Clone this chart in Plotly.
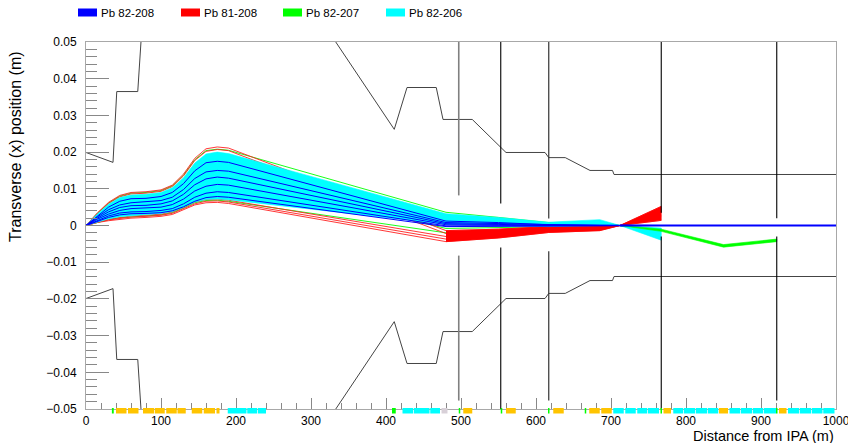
import plotly.graph_objects as go

# ---------------- data ----------------
x_traj = [0, 15, 30, 45, 60, 80, 100, 115, 130, 145, 160, 175, 190, 480, 550, 617, 685, 712, 767]

cyan_upper = [0, 0.0031, 0.0058, 0.0076, 0.0083, 0.0085, 0.0090, 0.0103, 0.0130, 0.0170, 0.0195, 0.0200, 0.0196, 0.0032, 0.0022, 0.0009, 0.0016, 0.0, -0.0007]
cyan_lower = [0, 0.0010, 0.0018, 0.0024, 0.0028, 0.0030, 0.0033, 0.0038, 0.0050, 0.0064, 0.0071, 0.0072, 0.0070, 0.0003, 0.0000, -0.0003, 0.0000, 0.0, -0.0040]

blue_1 = [0, 0.0026, 0.0050, 0.0066, 0.0073, 0.0074, 0.0079, 0.0090, 0.0114, 0.0149, 0.0171, 0.0175, 0.0172, 0.0012, 0.0008, 0.0002, 0.0001, 0, 0]
blue_2 = [0, 0.0023, 0.0043, 0.0056, 0.0062, 0.0064, 0.0068, 0.0077, 0.0098, 0.0128, 0.0146, 0.0150, 0.0148, 0.0008, 0.0005, 0.0001, 0.0000, 0, 0]
blue_3 = [0, 0.0020, 0.0037, 0.0049, 0.0054, 0.0055, 0.0059, 0.0067, 0.0085, 0.0111, 0.0127, 0.0132, 0.0129, 0.0005, 0.0003, 0.0000, 0.0000, 0, 0]
blue_4 = [0, 0.0017, 0.0031, 0.0041, 0.0046, 0.0047, 0.0050, 0.0057, 0.0072, 0.0094, 0.0107, 0.0112, 0.0110, 0.0002, 0.0001, 0.0000, 0.0000, 0, 0]
blue_5 = [0, 0.0014, 0.0026, 0.0034, 0.0037, 0.0038, 0.0041, 0.0046, 0.0059, 0.0077, 0.0088, 0.0092, 0.0090, -0.0001, -0.0001, 0.0000, 0.0000, 0, 0]
blue_6 = [0, 0.0012, 0.0022, 0.0029, 0.0032, 0.0033, 0.0035, 0.0040, 0.0051, 0.0066, 0.0076, 0.0079, 0.0077, -0.0003, -0.0002, -0.0001, 0.0000, 0, 0]

red_1 = [0, 0.0034, 0.0063, 0.0082, 0.0090, 0.0092, 0.0097, 0.0110, 0.0140, 0.0183, 0.0209, 0.0214, 0.0211, -0.0014, -0.0010, -0.0003, -0.0002, 0, 0.0014]
red_2 = [0, 0.0032, 0.0060, 0.0078, 0.0086, 0.0088, 0.0093, 0.0106, 0.0135, 0.0177, 0.0202, 0.0207, 0.0204, -0.0022, -0.0016, -0.0007, -0.0005, 0, 0.0026]
red_3 = [0, 0.0010, 0.0017, 0.0022, 0.0026, 0.0028, 0.0031, 0.0037, 0.0050, 0.0064, 0.0071, 0.0072, 0.0069, -0.0030, -0.0023, -0.0012, -0.0009, 0, 0.0036]
red_4 = [0, 0.0009, 0.0015, 0.0019, 0.0023, 0.0025, 0.0028, 0.0033, 0.0046, 0.0059, 0.0066, 0.0067, 0.0064, -0.0037, -0.0029, -0.0016, -0.0012, 0, 0.0044]
red_5 = [0, 0.0008, 0.0013, 0.0017, 0.0020, 0.0022, 0.0025, 0.0030, 0.0043, 0.0056, 0.0062, 0.0063, 0.0060, -0.0044, -0.0034, -0.0019, -0.0014, 0, 0.0052]

green_1 = [0, 0.0033, 0.0061, 0.0080, 0.0088, 0.0090, 0.0095, 0.0108, 0.0137, 0.0179, 0.0204, 0.0208, 0.0205, 0.0036, 0.0022, 0.0008, 0.0010, 0, -0.0010]
green_2 = [0, 0.0020, 0.0037, 0.0048, 0.0054, 0.0056, 0.0060, 0.0069, 0.0088, 0.0115, 0.0131, 0.0134, 0.0132, -0.0008, -0.0005, -0.0002, -0.0001, 0, -0.0013]
green_3 = [0, 0.0009, 0.0016, 0.0021, 0.0024, 0.0026, 0.0029, 0.0035, 0.0048, 0.0062, 0.0068, 0.0069, 0.0066, -0.0020, -0.0015, -0.0008, -0.0006, 0, -0.0016]

x_green_tail = [712, 767, 850, 921]
green_tail_hi = [0, -0.0010, -0.0052, -0.0037]
green_tail_lo = [0, -0.0016, -0.0059, -0.0044]

x_blue_tail = [712, 1000]
blue_tail = [0, 0]

# beam-pipe aperture (upper half; lower half is the mirror image)
aper_x = [0, 36, 41, 69, 73.3, 75, 317, 333, 411, 428, 467, 476, 515, 554, 560, 612, 617, 639, 672, 702, 704, 1000]
aper_y = [0.0199, 0.0172, 0.0365, 0.0365, 0.05, 0.055, 0.055, 0.05, 0.0262, 0.0376, 0.0376, 0.0289, 0.0289, 0.0213, 0.0199, 0.0199, 0.0185, 0.0185, 0.0150, 0.0150, 0.0139, 0.0139]

# vertical markers: position, end of upper part, start/end of lower part, colour, width
vline_x = [497, 553, 617, 767, 921]
vline_top_end = [0.0082, 0.0060, 0.0019, 0.0035, 0.0020]
vline_bot_start = [-0.0082, -0.0060, -0.0070, -0.0030, -0.0030]
vline_bot_end = [-0.0477, -0.05, -0.0477, -0.05, -0.0477]
vline_color = ["#808080", "#000000", "#333333", "#000000", "#000000"]
vline_width = [1.6, 1.1, 1.2, 1.1, 1.1]

# beamline elements drawn along the x axis
elem_gold = [(40, 54), (56, 70), (76, 91), (92, 105), (107, 121), (122, 133), (141, 155), (157, 172), (174, 178),
             (503, 515), (560, 573), (623, 637), (671, 685), (687, 701), (770, 780), (844, 856), (924, 934)]
elem_cyan = [(189, 214), (215, 228), (229, 240), (422, 436), (437, 458), (459, 472), (703, 717), (719, 733), (735, 748),
             (749, 764), (783, 796), (797, 812), (813, 828), (829, 843), (858, 872), (873, 888), (889, 903), (904, 920),
             (936, 951), (952, 967), (968, 982), (983, 998)]
elem_green = [(34.5, 37), (408, 413), (497, 499), (553, 555), (616, 618), (665, 667), (766, 768), (920, 922)]
elem_gray = [(474, 482)]

legend_names = ["Pb 82-208", "Pb 81-208", "Pb 82-207", "Pb 82-206"]
legend_colors = ["#0000ff", "#ff0000", "#00ff00", "#00ffff"]

x_ticks = list(range(0, 1001, 100))
y_ticks = [-0.05, -0.04, -0.03, -0.02, -0.01, 0, 0.01, 0.02, 0.03, 0.04, 0.05]

# ---------------- figure ----------------
OFF = 8                       # page body margin of the browser
W, H = 848, 435
ML, MT = 86 - OFF, 42 - OFF   # plot area 86..836 x 42..409 in the window
PW, PH = 750, 367
MR, MB = W - ML - PW, H - MT - PH
FONT = "Liberation Sans, Arial, Helvetica, sans-serif"


def px2paper_x(px):
    return (px - OFF - ML) / PW


def py2paper_y(py):
    return (MT + PH - (py - OFF)) / PH


fig = go.Figure()


def line(x, y, color, width=1.0):
    fig.add_trace(go.Scatter(x=x, y=y, mode="lines", line=dict(color=color, width=width),
                             showlegend=False, hoverinfo="skip"))


def band(x, yhi, ylo, color):
    fig.add_trace(go.Scatter(x=list(x) + list(x)[::-1], y=list(yhi) + list(ylo)[::-1], mode="lines",
                             fill="toself", fillcolor=color, line=dict(color=color, width=0.6),
                             showlegend=False, hoverinfo="skip"))


# green then red lines
for g in (green_1, green_2, green_3):
    line(x_traj, g, "#00ff00", 0.9)
for r in (red_1, red_2, red_3, red_4, red_5):
    line(x_traj, r, "#ff2020", 0.9)
i0 = x_traj.index(480)
band(x_traj[i0:], red_1[i0:], red_5[i0:], "#ff0000")

# cyan bundle
band(x_traj, cyan_upper, cyan_lower, "#00ffff")

# blue lines
for b in (blue_1, blue_2, blue_3, blue_4, blue_5, blue_6):
    line(x_traj, b, "#0000ff", 1.0)

# tails
band(x_green_tail, green_tail_hi, green_tail_lo, "#00ff00")
line(x_blue_tail, blue_tail, "#0000ff", 2.0)

# aperture
line(aper_x, aper_y, "#444444", 1.0)
line(aper_x, [-v for v in aper_y], "#444444", 1.0)

# vertical markers
for xv, te, bs, be, c, w in zip(vline_x, vline_top_end, vline_bot_start, vline_bot_end, vline_color, vline_width):
    line([xv, xv], [0.05, te], c, w)
    line([xv, xv], [bs, be], c, w)

shapes = []
y0e, y1e = py2paper_y(413.5), py2paper_y(408)
for lst, col in ((elem_gold, "#ffc400"), (elem_cyan, "#00ffff"), (elem_green, "#00ff00"), (elem_gray, "#d8d0d8")):
    for a, b in lst:
        shapes.append(dict(type="rect", xref="x", yref="paper", x0=a, x1=b, y0=y0e, y1=y1e,
                           fillcolor=col, line=dict(width=0), layer="above"))

# legend (drawn as boxes + text)
annotations = []
leg_px = [78, 181, 283, 386]
for px, name, col in zip(leg_px, legend_names, legend_colors):
    shapes.append(dict(type="rect", xref="paper", yref="paper",
                       x0=px2paper_x(px), x1=px2paper_x(px + 19),
                       y0=py2paper_y(16.5), y1=py2paper_y(8.5),
                       fillcolor=col, line=dict(width=0)))
    annotations.append(dict(text=name, xref="paper", yref="paper", x=px2paper_x(px + 21.5),
                            y=py2paper_y(13), xanchor="left", yanchor="middle", showarrow=False,
                            borderpad=0, font=dict(size=11.5, color="#000", family=FONT)))

annotations.append(dict(text="Distance from IPA (m)", xref="paper", yref="paper", x=px2paper_x(835),
                        y=py2paper_y(435.5), xanchor="right", yanchor="middle", showarrow=False,
                        borderpad=0, font=dict(size=14.5, color="#000", family=FONT)))
annotations.append(dict(text="Transverse (x) position (m)", xref="paper", yref="paper",
                        x=px2paper_x(15), y=py2paper_y(147), xanchor="center", yanchor="middle",
                        textangle=-90, showarrow=False,
                        font=dict(size=16, color="#000", family=FONT)))

axis_common = dict(showgrid=False, zeroline=False, showline=True, linecolor="#a8a8a8", linewidth=1,
                   mirror=True, ticks="inside", tickcolor="#888888", tickwidth=1,
                   tickfont=dict(size=12, color="#000", family=FONT))

fig.update_layout(
    width=W, height=H, margin=dict(l=ML, r=MR, t=MT, b=MB, autoexpand=False),
    plot_bgcolor="white", paper_bgcolor="white",
    xaxis=dict(range=[0, 1000], tickvals=x_ticks, ticklen=11, ticklabelstandoff=1,
               minor=dict(dtick=20, tick0=0, ticklen=6, ticks="inside", tickcolor="#888888"),
               **axis_common),
    yaxis=dict(range=[-0.05, 0.05], tickvals=y_ticks, ticklen=23, ticklabelstandoff=6,
               minor=dict(dtick=0.002, tick0=0, ticklen=11, ticks="inside", tickcolor="#888888"),
               **axis_common),
    shapes=shapes, annotations=annotations, showlegend=False,
)

fig.write_html("out.html")
